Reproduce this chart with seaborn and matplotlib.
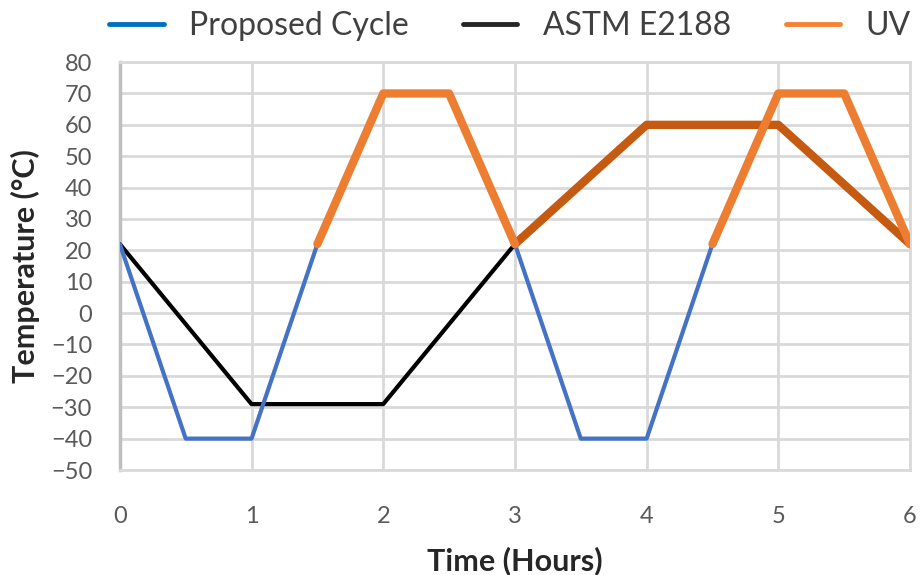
"""
Temperature cycle comparison: proposed cycle vs ASTM E2188, UV phases highlighted
"""
import numpy as np
import pandas as pd
import matplotlib
matplotlib.use("Agg")
import matplotlib.pyplot as plt
import seaborn as sns

# Proposed cycle, cold portions (two segments)
proposed_cold_time = [0, 0.5, 1, 1.5, 3, 3.5, 4, 4.5]
proposed_cold_temp = [22, -40, -40, 22, 22, -40, -40, 22]
proposed_cold_seg = [0, 0, 0, 0, 1, 1, 1, 1]

# Proposed cycle, UV portions
proposed_uv_time = [1.5, 2, 2.5, 3, 4.5, 5, 5.5, 6]
proposed_uv_temp = [22, 70, 70, 22, 22, 70, 70, 22]
proposed_uv_seg = [0, 0, 0, 0, 1, 1, 1, 1]

# ASTM E2188
astm_cold_time = [0, 1, 2, 3]
astm_cold_temp = [22, -29, -29, 22]
astm_uv_time = [3, 4, 5, 6]
astm_uv_temp = [22, 60, 60, 22]

x_ticks = [0, 1, 2, 3, 4, 5, 6]
y_ticks = list(range(-50, 81, 10))
legend_labels = ["Proposed Cycle", "ASTM E2188", "UV"]

BLUE = "#4472C4"
ORANGE = "#ED7D31"
DARK_ORANGE = "#C55A11"
GRID = "#D9D9D9"
TICK = "#595959"

sns.set_style("white")
plt.rcParams["font.family"] = ["Lato", "DejaVu Sans"]

fig = plt.figure(figsize=(9.22, 5.75), dpi=100)
ax = fig.add_axes([0.130, 0.1826, 0.857, 0.7094])

df_pc = pd.DataFrame({"t": proposed_cold_time, "T": proposed_cold_temp, "seg": proposed_cold_seg})
df_pu = pd.DataFrame({"t": proposed_uv_time, "T": proposed_uv_temp, "seg": proposed_uv_seg})
df_ac = pd.DataFrame({"t": astm_cold_time, "T": astm_cold_temp})
df_au = pd.DataFrame({"t": astm_uv_time, "T": astm_uv_temp})

sns.lineplot(data=df_ac, x="t", y="T", color="black", lw=3, ax=ax, zorder=3, sort=False)
sns.lineplot(data=df_pc, x="t", y="T", units="seg", estimator=None, color=BLUE,
             lw=3, ax=ax, zorder=3, sort=False)
sns.lineplot(data=df_au, x="t", y="T", color=DARK_ORANGE, lw=6, ax=ax, zorder=4,
             sort=False)
sns.lineplot(data=df_pu, x="t", y="T", units="seg", estimator=None, color=ORANGE,
             lw=6, ax=ax, zorder=5, sort=False, solid_capstyle="round")

ax.set_xlim(0, 6)
ax.set_ylim(-50, 80)
ax.set_xticks(x_ticks)
ax.set_yticks(y_ticks)
ax.tick_params(axis="both", length=0, labelsize=17, labelcolor=TICK)
ax.tick_params(axis="x", pad=26)
ax.tick_params(axis="y", pad=20)
ax.grid(True, color=GRID, lw=2, zorder=0)
ax.set_axisbelow(True)
for side in ["top", "right", "bottom"]:
    ax.spines[side].set_color(GRID)
    ax.spines[side].set_linewidth(2)
ax.spines["left"].set_color("#BFBFBF")
ax.spines["left"].set_linewidth(2.5)

ax.set_xlabel("Time (Hours)", fontsize=22, fontweight="bold", labelpad=14)
ax.set_ylabel("Temperature (°C)", fontsize=22, fontweight="bold", labelpad=8)

# legend swatches are thin in the original, unlike the plotted UV line
handles = [
    plt.Line2D([], [], color="#0070C0", lw=3.5),
    plt.Line2D([], [], color="#262626", lw=3.5),
    plt.Line2D([], [], color="#F58232", lw=3.5),
]
fig.legend(handles, legend_labels, loc="center",
           bbox_to_anchor=(0.553, 0.955), ncol=3, frameon=False, fontsize=23,
           handlelength=1.7, handletextpad=0.8, columnspacing=1.7,
           labelcolor="#404040", borderpad=0, borderaxespad=0)

fig.savefig("out.png", dpi=100)
